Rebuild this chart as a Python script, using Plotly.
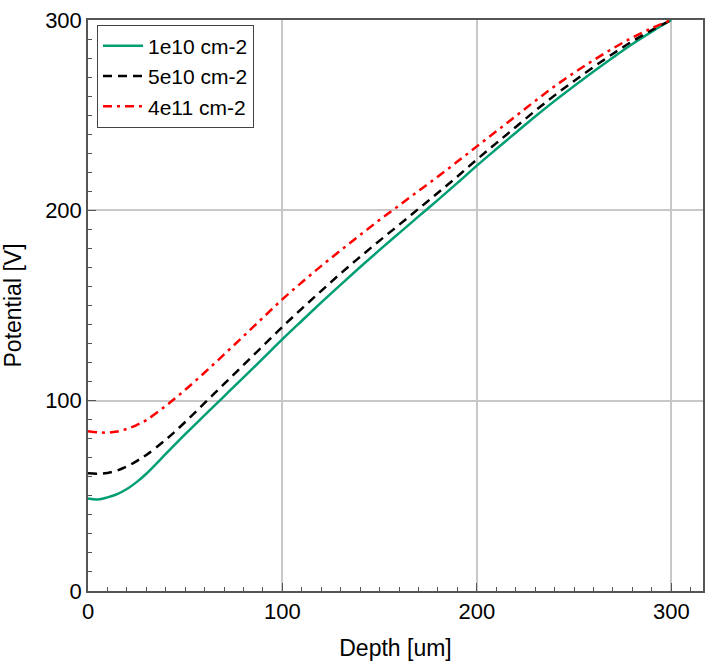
import plotly.graph_objects as go

depth = [0, 5, 10, 15, 20, 25, 30, 40, 50, 60, 70, 80, 90, 100, 110, 120, 130, 140,
         150, 160, 170, 180, 190, 200, 210, 220, 230, 240, 250, 260, 270, 280, 290, 300]

pot_1e10 = [48.6, 48.1, 49.2, 50.9, 53.6, 57.2, 61.6, 72.0, 82.4, 92.4, 102.3, 112.2,
            122.2, 132.3, 142.0, 151.6, 161.0, 170.2, 179.2, 188.0, 196.8, 205.5, 214.4,
            223.5, 232.2, 240.8, 249.3, 257.5, 265.3, 272.9, 280.3, 287.4, 293.9, 300.0]

pot_5e10 = [61.8, 61.6, 62.0, 63.3, 65.4, 68.2, 71.5, 79.5, 88.8, 98.8, 108.8, 118.8,
            128.8, 138.8, 148.4, 157.7, 166.9, 175.6, 184.1, 192.4, 200.8, 209.2, 217.8,
            226.7, 235.3, 243.8, 252.3, 260.4, 268.0, 275.3, 282.3, 288.8, 294.7, 300.0]

pot_4e11 = [84.0, 83.4, 83.2, 83.8, 85.2, 87.2, 89.8, 97.3, 105.7, 114.8, 124.3, 133.9,
            143.6, 153.3, 162.2, 170.8, 179.0, 187.1, 195.0, 202.6, 210.2, 217.8, 225.6,
            233.6, 241.5, 249.5, 257.5, 265.2, 272.3, 278.9, 285.1, 290.8, 295.7, 300.0]

series_names = ["1e10 cm-2", "5e10 cm-2", "4e11 cm-2"]
x_ticks = [0, 100, 200, 300]
y_ticks = [0, 100, 200, 300]

fig = go.Figure()
fig.add_trace(go.Scatter(x=depth, y=pot_1e10, mode="lines", name=series_names[0],
                         line=dict(color="#009e73", width=2.5, shape="spline")))
fig.add_trace(go.Scatter(x=depth, y=pot_5e10, mode="lines", name=series_names[1],
                         line=dict(color="black", width=2.5, dash="9px,6px", shape="spline")))
fig.add_trace(go.Scatter(x=depth, y=pot_4e11, mode="lines", name=series_names[2],
                         line=dict(color="red", width=2.5, dash="9px,5px,3px,5px", shape="spline")))

axis_common = dict(
    ticks="inside", ticklen=8, tickwidth=1, tickcolor="#555",
    showgrid=True, gridcolor="#c8c8c8", gridwidth=1.5,
    showline=True, linecolor="#555", linewidth=1.5, mirror=True,
    zeroline=False,
    minor=dict(dtick=10, ticks="inside", ticklen=4, tickwidth=1, tickcolor="#555", showgrid=False),
    tickfont=dict(size=22, color="black"),
)

fig.update_xaxes(range=[0, 316.3], tickvals=x_ticks, ticktext=[str(v) for v in x_ticks],
                 title=dict(text="Depth [um]", font=dict(size=23), standoff=17), **axis_common)
fig.update_yaxes(range=[0, 300], tickvals=y_ticks, ticktext=[str(v) for v in y_ticks],
                 title=dict(text="Potential [V]", font=dict(size=23), standoff=17), **axis_common)

fig.update_layout(
    width=713, height=665,
    margin=dict(l=88, r=8, t=17, b=72),
    plot_bgcolor="white", paper_bgcolor="white",
    font=dict(family="Liberation Sans, Arial, sans-serif", size=22, color="black"),
    legend=dict(x=0.0146, y=0.992, xanchor="left", yanchor="top",
                bordercolor="#444", borderwidth=1, bgcolor="white",
                itemwidth=40, font=dict(size=21)),
)

fig.write_html("out.html")
